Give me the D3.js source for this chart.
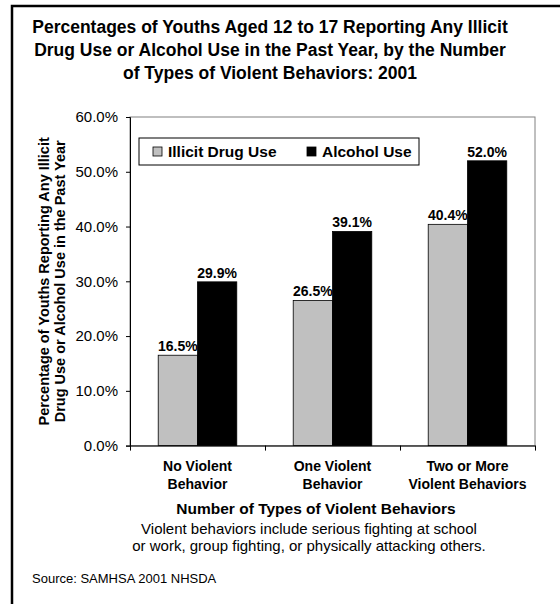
<!DOCTYPE html>
<html>
<head>
<meta charset="utf-8">
<script src="https://cdn.jsdelivr.net/npm/d3@7"></script>
<style>
  body { margin: 0; background: #fff; }
  text { font-family: "Liberation Sans", Arial, sans-serif; }
</style>
</head>
<body>
<svg id="chart" width="560" height="604"></svg>
<script>
var categories = [["No Violent", "Behavior"], ["One Violent", "Behavior"], ["Two or More", "Violent Behaviors"]];
var seriesNames = ["Illicit Drug Use", "Alcohol Use"];
var illicitValues = [16.5, 26.5, 40.4];
var alcoholValues = [29.9, 39.1, 52.0];
var yTicks = [0, 10, 20, 30, 40, 50, 60];
var titleLines = ["Percentages of Youths Aged 12 to 17 Reporting Any Illicit",
                  "Drug Use or Alcohol Use in the Past Year, by the Number",
                  "of Types of Violent Behaviors: 2001"];
var yLabelLines = ["Percentage of Youths Reporting Any Illicit", "Drug Use or Alcohol Use in the Past Year"];
var noteLines = ["Violent behaviors include serious fighting at school",
                 "or work, group fighting, or physically attacking others."];

var colors = ["#c0c0c0", "#000000"];
var svg = d3.select("#chart");

// outer frame, runs off the right and bottom edge
svg.append("rect")
    .attr("x", 12).attr("y", 6)
    .attr("width", 700).attr("height", 800)
    .attr("fill", "none").attr("stroke", "#000").attr("stroke-width", 2.5);

// title
svg.append("g").selectAll("text")
    .data(titleLines).enter().append("text")
    .attr("x", 270)
    .attr("y", function(d, i) { return 33 + i * 23; })
    .attr("text-anchor", "middle")
    .style("font-size", "17.5px").style("font-weight", "bold")
    .text(function(d) { return d; });

var plotLeft = 130, plotRight = 535, plotTop = 117, plotBottom = 445.6;

var y = d3.scaleLinear().domain([0, 60]).range([plotBottom, plotTop]);
var x0 = d3.scaleBand()
    .domain(d3.range(categories.length))
    .range([plotLeft, plotRight])
    .paddingInner(0.418)
    .paddingOuter(0.209);
var x1 = d3.scaleBand().domain(d3.range(seriesNames.length)).range([0, x0.bandwidth()]);
var xTicks = d3.scaleLinear().domain([0, categories.length]).range([plotLeft, plotRight]);

// plot frame (grey top / right)
svg.append("rect")
    .attr("x", plotLeft).attr("y", plotTop)
    .attr("width", plotRight - plotLeft).attr("height", plotBottom - plotTop)
    .attr("fill", "none").attr("stroke", "#808080").attr("stroke-width", 1);

var groups = svg.append("g").selectAll("g")
    .data(categories).enter().append("g")
    .attr("transform", function(d, i) { return "translate(" + x0(i) + ",0)"; });

var valueSets = [illicitValues, alcoholValues];
groups.selectAll("rect")
    .data(function(d, i) { return valueSets.map(function(v, s) { return {s: s, v: v[i]}; }); })
    .enter().append("rect")
    .attr("x", function(d) { return x1(d.s); })
    .attr("y", function(d) { return y(d.v); })
    .attr("width", x1.bandwidth())
    .attr("height", function(d) { return plotBottom - y(d.v); })
    .attr("fill", function(d) { return colors[d.s]; })
    .attr("stroke", "#000").attr("stroke-width", 0.8);

groups.selectAll("text.val")
    .data(function(d, i) { return valueSets.map(function(v, s) { return {s: s, v: v[i]}; }); })
    .enter().append("text")
    .attr("class", "val")
    .attr("x", function(d) { return x1(d.s) + x1.bandwidth() / 2; })
    .attr("y", function(d) { return y(d.v) - 4; })
    .attr("text-anchor", "middle")
    .style("font-size", "14px").style("font-weight", "bold")
    .text(function(d) { return d.v.toFixed(1) + "%"; });

// y axis
var yAxis = svg.append("g")
    .attr("transform", "translate(" + plotLeft + ",0)")
    .call(d3.axisLeft(y).tickValues(yTicks).tickSizeOuter(0).tickSize(4).tickPadding(8)
        .tickFormat(function(d) { return d.toFixed(1) + "%"; }));
yAxis.selectAll("text").style("font-size", "15px").attr("fill", "#000")
    .style("font-family", "'Liberation Sans', Arial, sans-serif");
yAxis.selectAll("line, path").attr("stroke", "#000");

// x axis with ticks between categories
var xAxis = svg.append("g")
    .attr("transform", "translate(0," + plotBottom + ")")
    .call(d3.axisBottom(xTicks).tickValues(d3.range(categories.length + 1))
        .tickSize(5).tickSizeOuter(0).tickFormat(""));
xAxis.selectAll("line, path").attr("stroke", "#000");

// category labels
var catLabels = svg.append("g").selectAll("text")
    .data(categories).enter().append("text")
    .attr("text-anchor", "middle")
    .style("font-size", "14px").style("font-weight", "bold");
catLabels.selectAll("tspan")
    .data(function(d, i) { return d.map(function(t) { return {t: t, i: i}; }); })
    .enter().append("tspan")
    .attr("x", function(d) { return x0(d.i) + x0.bandwidth() / 2; })
    .attr("y", function(d, j) { return 470.5 + j * 18.5; })
    .text(function(d) { return d.t; });

// y axis title
svg.append("g").selectAll("text")
    .data(yLabelLines).enter().append("text")
    .attr("transform", function(d, i) { return "translate(" + (49 + i * 16) + "," + ((plotTop + plotBottom) / 2) + ") rotate(-90)"; })
    .attr("text-anchor", "middle")
    .style("font-size", "14.5px").style("font-weight", "bold")
    .text(function(d) { return d; });

// legend
var legend = svg.append("g").attr("transform", "translate(139,138)");
legend.append("rect")
    .attr("width", 280).attr("height", 27)
    .attr("fill", "#fff").attr("stroke", "#000").attr("stroke-width", 1);
var legendX = [14, 168];
var items = legend.selectAll("g.item")
    .data(seriesNames).enter().append("g")
    .attr("transform", function(d, i) { return "translate(" + legendX[i] + ",0)"; });
items.append("rect")
    .attr("x", 0).attr("y", 9).attr("width", 9).attr("height", 9)
    .attr("fill", function(d, i) { return colors[i]; })
    .attr("stroke", "#000").attr("stroke-width", 0.8);
items.append("text")
    .attr("x", 15).attr("y", 18.5)
    .style("font-size", "15.5px").style("font-weight", "bold")
    .text(function(d) { return d; });

// x axis title and note
svg.append("text")
    .attr("x", 316).attr("y", 514)
    .attr("text-anchor", "middle")
    .style("font-size", "15.5px").style("font-weight", "bold")
    .text("Number of Types of Violent Behaviors");
svg.append("g").selectAll("text")
    .data(noteLines).enter().append("text")
    .attr("x", 309)
    .attr("y", function(d, i) { return 534 + i * 17; })
    .attr("text-anchor", "middle")
    .style("font-size", "15px")
    .text(function(d) { return d; });

svg.append("text")
    .attr("x", 32).attr("y", 583)
    .style("font-size", "13px")
    .text("Source: SAMHSA 2001 NHSDA");
</script>
</body>
</html>
